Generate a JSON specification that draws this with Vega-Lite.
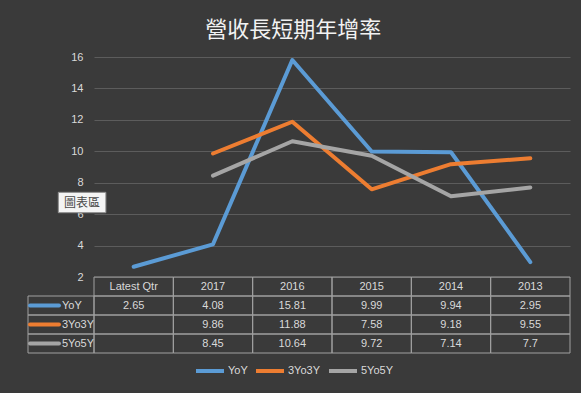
{
  "$schema": "https://vega.github.io/schema/vega-lite/v6.json",
  "background": "#3a3a3a",
  "padding": {"left": 22, "top": 19, "right": 17, "bottom": 18},
  "title": {"text": "營收長短期年增率", "font": "Noto Sans CJK TC", "fontSize": 22, "fontWeight": "normal", "color": "#f2f2f2", "offset": 9, "anchor": "middle", "dx": -3},
  "config": {"view": {"stroke": null}, "font": "Liberation Sans"},
  "datasets": {
    "vals": [
      {"cat": "Latest Qtr", "series": "YoY", "value": 2.65},
      {"cat": "2017", "series": "YoY", "value": 4.08},
      {"cat": "2016", "series": "YoY", "value": 15.81},
      {"cat": "2015", "series": "YoY", "value": 9.99},
      {"cat": "2014", "series": "YoY", "value": 9.94},
      {"cat": "2013", "series": "YoY", "value": 2.95},
      {"cat": "Latest Qtr", "series": "3Yo3Y", "value": null},
      {"cat": "2017", "series": "3Yo3Y", "value": 9.86},
      {"cat": "2016", "series": "3Yo3Y", "value": 11.88},
      {"cat": "2015", "series": "3Yo3Y", "value": 7.58},
      {"cat": "2014", "series": "3Yo3Y", "value": 9.18},
      {"cat": "2013", "series": "3Yo3Y", "value": 9.55},
      {"cat": "Latest Qtr", "series": "5Yo5Y", "value": null},
      {"cat": "2017", "series": "5Yo5Y", "value": 8.45},
      {"cat": "2016", "series": "5Yo5Y", "value": 10.64},
      {"cat": "2015", "series": "5Yo5Y", "value": 9.72},
      {"cat": "2014", "series": "5Yo5Y", "value": 7.14},
      {"cat": "2013", "series": "5Yo5Y", "value": 7.7}
    ],
    "cats": [
      {"cat": "Latest Qtr"}, {"cat": "2017"}, {"cat": "2016"}, {"cat": "2015"}, {"cat": "2014"}, {"cat": "2013"}
    ],
    "series": [
      {"series": "YoY"}, {"series": "3Yo3Y"}, {"series": "5Yo5Y"}
    ],
    "note": [{"label": "圖表區"}]
  },
  "concat": [
    {
      "width": 66, "height": 220,
      "data": {"values": []},
      "mark": {"type": "point", "opacity": 0},
      "encoding": {}
    },
    {
      "width": 476, "height": 220,
      "encoding": {
        "y": {"type": "quantitative", "scale": {"domain": [2, 16], "nice": false, "zero": false},
          "axis": {"values": [2, 4, 6, 8, 10, 12, 14, 16], "tickCount": 10, "title": null, "domain": false, "ticks": false, "grid": true, "gridColor": "#5c5c5c", "gridWidth": 1, "labelColor": "#d9d9d9", "labelFontSize": 11, "labelPadding": 11, "labelFont": "Liberation Sans", "labelOverlap": false, "labelBound": false}}
      },
      "layer": [
        {
          "data": {"name": "vals"},
          "mark": {"type": "line", "strokeWidth": 4, "strokeCap": "round", "strokeJoin": "round"},
          "encoding": {
            "x": {"field": "cat", "type": "nominal", "scale": {"type": "band", "domain": ["Latest Qtr", "2017", "2016", "2015", "2014", "2013"], "paddingInner": 0, "paddingOuter": 0}, "axis": null},
            "y": {"field": "value", "type": "quantitative"},
            "color": {"field": "series", "type": "nominal", "scale": {"domain": ["YoY", "3Yo3Y", "5Yo5Y"], "range": ["#5b9bd5", "#ed7d31", "#a5a5a5"]},
              "legend": {"orient": "none", "legendX": 100, "legendY": 298, "direction": "horizontal", "title": null, "symbolType": "stroke", "symbolSize": 784, "symbolStrokeWidth": 4, "labelColor": "#d9d9d9", "labelFontSize": 11, "labelFont": "Liberation Sans", "labelOffset": 2, "columnPadding": 0, "gridAlign": "none", "padding": 0}}
          }
        },
        {
          "data": {"name": "note"},
          "mark": {"type": "point", "shape": "M-1.4,-0.6H1.4V0.6H-1.4Z", "size": 1156, "filled": true, "fill": "#f4f4f4", "stroke": "#8a8a8a", "strokeWidth": 1, "opacity": 1},
          "encoding": {
            "x": {"datum": "Latest Qtr", "type": "nominal", "bandPosition": -0.15},
            "y": {"datum": 6.74, "type": "quantitative"}
          }
        },
        {
          "data": {"name": "note"},
          "mark": {"type": "text", "font": "Noto Sans CJK TC", "fontSize": 12, "color": "#4a4a4a", "align": "center", "baseline": "middle"},
          "encoding": {
            "x": {"datum": "Latest Qtr", "type": "nominal", "bandPosition": -0.15},
            "y": {"datum": 6.74, "type": "quantitative"},
            "text": {"field": "label"}
          }
        }
      ]
    },
    {
      "width": 66, "height": 76,
      "data": {"name": "series"},
      "layer": [
        {
          "mark": {"type": "rect", "fill": "transparent", "stroke": "#a0a0a0", "strokeWidth": 1},
          "encoding": {
            "y": {"field": "series", "type": "nominal", "scale": {"type": "band", "domain": ["hdr", "YoY", "3Yo3Y", "5Yo5Y"], "paddingInner": 0, "paddingOuter": 0}, "axis": null}
          }
        },
        {
          "mark": {"type": "point", "shape": "stroke", "size": 841, "strokeWidth": 4, "strokeCap": "round", "opacity": 1},
          "encoding": {
            "x": {"datum": "sym", "type": "nominal", "scale": {"type": "band", "domain": ["sym", "name"], "paddingInner": 0, "paddingOuter": 0}, "axis": null},
            "y": {"field": "series", "type": "nominal"},
            "color": {"field": "series", "type": "nominal", "scale": {"domain": ["YoY", "3Yo3Y", "5Yo5Y"], "range": ["#5b9bd5", "#ed7d31", "#a5a5a5"]}, "legend": null}
          }
        },
        {
          "mark": {"type": "text", "align": "left", "baseline": "middle", "dx": 1, "fontSize": 11, "color": "#d9d9d9"},
          "encoding": {
            "x": {"datum": "name", "type": "nominal", "bandPosition": 0},
            "y": {"field": "series", "type": "nominal"},
            "text": {"field": "series"}
          }
        }
      ]
    },
    {
      "width": 476, "height": 76,
      "layer": [
        {
          "data": {"name": "cats"},
          "mark": {"type": "rect", "fill": "transparent", "stroke": "#a0a0a0", "strokeWidth": 1},
          "encoding": {
            "x": {"field": "cat", "type": "nominal", "scale": {"type": "band", "domain": ["Latest Qtr", "2017", "2016", "2015", "2014", "2013"], "paddingInner": 0, "paddingOuter": 0}, "axis": null},
            "y": {"datum": "hdr", "type": "nominal", "scale": {"type": "band", "domain": ["hdr", "YoY", "3Yo3Y", "5Yo5Y"], "paddingInner": 0, "paddingOuter": 0}, "axis": null}
          }
        },
        {
          "data": {"name": "cats"},
          "mark": {"type": "text", "align": "center", "baseline": "middle", "fontSize": 11, "color": "#d9d9d9"},
          "encoding": {
            "x": {"field": "cat", "type": "nominal"},
            "y": {"datum": "hdr", "type": "nominal"},
            "text": {"field": "cat"}
          }
        },
        {
          "data": {"name": "vals"},
          "mark": {"type": "rect", "fill": "transparent", "stroke": "#a0a0a0", "strokeWidth": 1},
          "encoding": {
            "x": {"field": "cat", "type": "nominal"},
            "y": {"field": "series", "type": "nominal"}
          }
        },
        {
          "data": {"name": "vals"},
          "transform": [{"filter": "datum.value != null"}],
          "mark": {"type": "text", "align": "center", "baseline": "middle", "fontSize": 11, "color": "#d9d9d9"},
          "encoding": {
            "x": {"field": "cat", "type": "nominal"},
            "y": {"field": "series", "type": "nominal"},
            "text": {"field": "value", "type": "nominal"}
          }
        }
      ]
    }
  ],
  "columns": 2,
  "spacing": 0,
  "bounds": "flush",
  "resolve": {"scale": {"color": "independent", "x": "independent", "y": "independent"}, "legend": {"color": "independent"}}
}
